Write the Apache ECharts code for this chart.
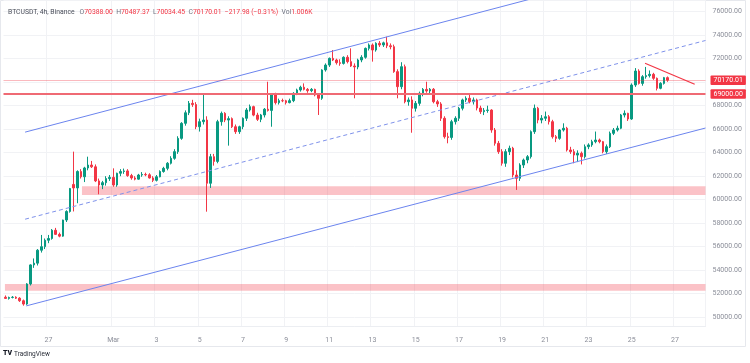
<!DOCTYPE html>
<html><head><meta charset="utf-8">
<script src="https://cdn.jsdelivr.net/npm/echarts@6/dist/echarts.min.js"></script>
<style>html,body{margin:0;padding:0;background:#fff;}#c{width:750px;height:363px;}</style>
</head><body><div id="c"></div>
<script>
// ---- data ----
const startUTC = Date.UTC(2024, 1, 25, 0, 0); // first 4h bar: Feb 25 2024 00:00
const slotCount = 195; // bars + right margin slots
const tickDates = ['02-27','03-01','03-03','03-05','03-07','03-09','03-11','03-13','03-15','03-17','03-19','03-21','03-23','03-25','03-27'];
const tickTexts = ['27','Mar','3','5','7','9','11','13','15','17','19','21','23','25','27'];
// [open, high, low, close]
const candles = [
[51700,51850,51550,51600],[51600,51750,51500,51680],[51680,51800,51600,51700],[51700,51780,51550,51620],
[51620,51700,51300,51400],[51400,51500,50980,51120],[51120,52900,51050,52830],[52830,54500,52700,54450],
[54450,55000,54200,54600],[54600,55800,54400,55700],[55700,57000,55500,56000],[56000,56700,55800,56550],
[56550,57000,56300,56700],[56700,57500,56600,57400],[57400,57600,57000,57050],[57050,57200,56800,56900],
[56900,58300,56850,58270],[58270,59100,58100,59000],[59000,61000,58900,60950],[61300,64090,59000,61000],
[61000,62500,59700,62400],[62400,62600,61800,61950],[61950,62800,61500,62700],[62700,63660,62500,62950],
[62950,63300,62700,62800],[62800,63000,61500,61600],[61600,61800,60460,61250],[61250,61600,60900,61450],
[61450,62000,61200,61800],[61800,62100,61600,61900],[61900,62670,61100,61250],[61250,62300,61100,62250],
[62250,62600,62000,62400],[62400,62650,62200,62450],[62450,62600,61950,62050],[62050,62200,61700,61850],
[61850,62000,61650,61750],[61750,62200,61700,62100],[62100,62350,61950,62150],[62150,62300,62000,62120],
[62120,62250,61800,61850],[61850,62000,61500,61650],[61650,62100,61550,61950],[61950,62500,61900,62400],
[62400,62800,62300,62670],[62670,63200,62500,63100],[63100,63700,63000,63520],[63520,64300,63400,64090],
[64090,65400,63900,65220],[65220,66600,65100,66500],[66500,67600,66300,67400],[67400,68400,67200,68200],
[68200,68500,67900,68100],[68100,68300,66000,66210],[66210,66900,65800,66640],[66640,69050,66400,66780],
[66780,67100,58980,61400],[61400,63900,61000,63660],[63660,63900,62900,63260],[63260,66800,63100,66640],
[66640,67500,66300,67350],[67350,67450,66600,66780],[66780,67100,64600,66900],[66900,67000,66100,66210],
[66210,66400,65600,65790],[65790,66300,65600,66210],[66210,67000,66000,66930],[66930,67800,66700,67635],
[67635,68100,67500,67920],[67920,68000,67100,67200],[67200,67400,66700,66840],[66840,67300,66600,67210],
[67210,67800,67000,67700],[67700,70040,67500,67600],[67600,69000,66210,68910],[68910,69100,68100,68260],
[68260,68600,68100,68430],[68430,68600,68300,68420],[68420,68500,68100,68260],[68260,68600,68200,68430],
[68430,69150,68300,69050],[69050,69450,68900,69340],[69340,69700,69200,69570],[69570,69900,69300,69390],
[69390,69500,69100,69280],[69280,69500,69150,69390],[69390,69450,68800,68910],[68910,69000,67210,68630],
[68630,71100,68500,71040],[71040,71600,70900,71460],[71460,72100,71300,72030],[72030,72740,71800,71890],
[71890,72000,71500,71660],[71660,71950,71400,71600],[71600,72200,71500,72120],[72120,72300,71600,71750],
[71750,72880,71300,71380],[71380,71600,68630,71300],[71300,72000,71100,71890],[71890,72300,71700,72120],
[72120,72950,72000,72880],[72880,73300,72700,73170],[73170,73300,71750,72740],[72740,73400,72600,73310],
[73310,73500,73000,73170],[73170,73450,73000,73350],[73350,73870,72900,73100],[73100,73300,72800,73020],
[73020,73200,70800,70900],[70900,71100,68630,69620],[69620,71700,69400,71320],[71320,71500,68200,68340],
[68340,68700,68000,68490],[68490,68800,65700,67780],[67780,68400,67500,68200],[68200,69200,68000,69050],
[69050,69500,68800,69390],[69390,70040,69100,69250],[69250,69500,69000,69400],[69400,69500,68200,68340],
[68340,68500,67900,68150],[68150,68300,66700,66930],[66930,67100,65200,65360],[65360,65700,64800,65300],
[65300,66800,65100,66640],[66640,67100,66400,66930],[66930,67900,66700,67780],[67780,68600,67600,68490],
[68490,68800,68300,68630],[68630,69050,68200,68340],[68340,68700,68100,68490],[68490,68600,67600,67800],
[67800,68000,67300,67490],[67490,67800,67200,67600],[67600,68000,67400,67630],[67630,67700,65700,65930],
[65930,66100,64600,64800],[64800,65000,63900,64090],[64090,64300,62900,63100],[63100,64300,62800,64090],
[64090,64600,63800,64380],[64380,64500,61900,62100],[62100,62500,60830,61820],[61820,63100,61600,62950],
[62950,63500,62700,63380],[63380,63800,63100,63660],[63660,65900,63500,65790],[65790,68100,65600,67780],
[67780,67900,66500,66780],[66780,67200,66500,66930],[66930,67500,66700,67060],[67060,67200,66400,66640],
[66640,66800,65200,65360],[65360,65500,64900,65220],[65220,66000,65100,65930],[65930,66500,65800,66080],
[66080,66200,64100,64230],[64230,64500,63900,64090],[64090,64300,63100,63800],[63800,64200,63200,63950],
[63950,64100,63000,63660],[63660,64700,63500,64510],[64510,64800,64300,64660],[64660,65100,64500,64940],
[64940,65800,64800,65080],[65080,65200,64800,64940],[64940,65000,63950,64090],[64090,64700,63900,64510],
[64510,65800,64400,65650],[65650,66100,65500,65930],[65930,66300,65800,66080],[66080,67300,66000,67210],
[67210,67600,67000,67350],[67350,67400,66700,66870],[66870,69900,66800,69760],[69760,71200,69600,70950],
[70950,71100,69800,69900],[69900,70600,69700,70470],[70470,71300,70300,70560],[70560,71000,70400,70670],
[70670,70800,70200,70330],[70330,70400,69300,69480],[69480,70000,69400,69900],[69900,70450,69800,70388],
[70388,70487.37,70034.45,70170.01]
];
const hLineLevel = 69000;
const lastPrice = 70170.01;
// drawings in (bar index, price)
const zoneUpper = [[21.3, 61150], [194.5, 60400]];
const zoneLower = [[-0.1, 52820], [194.5, 52250]];
const channelUpper = [[5.5, 65750], [194.5, 81000]];
const channelMid = [[5.5, 58340], [194.5, 73550]];
const channelLower = [[5.8, 50960], [194.5, 66100]];
const redTrend = [[177.7, 71609], [191.5, 69822]];
const legendNames = ['O','H','L','C'];
const legendValues = ['70388.00','70487.37','70034.45','70170.01'];
const legendChange = '−217.98 (−0.31%)';
const legendVol = '1.006K';

// ---- build ----
const pad = n => String(n).padStart(2,'0');
const categories = [];
for (let k = 0; k < slotCount; k++) {
  const d = new Date(startUTC + k * 4 * 3600 * 1000);
  categories.push(pad(d.getUTCMonth()+1) + '-' + pad(d.getUTCDate()) + ' ' + pad(d.getUTCHours()) + ':00');
}
const tickMap = {};
tickDates.forEach((d, i) => { tickMap[d + ' 00:00'] = tickTexts[i]; });
const isTick = (idx, val) => tickMap[val] !== undefined;

const UP = '#089981', DOWN = '#f23645';
const FONT = 'Roboto, "Noto Sans", sans-serif';
const GRIDC = '#f1f2f5';

const chart = echarts.init(document.getElementById('c'), null, {renderer: 'canvas'});
const legendText = '{t|BTCUSDT, 4h, Binance}   ' +
  legendNames.map((n, i) => '{g|' + n + '}{r|' + legendValues[i] + '}').join('  ') +
  '  {r|' + legendChange + '}  {g|Vol}{r|' + legendVol + '}';

chart.setOption({
  animation: false,
  backgroundColor: '#ffffff',
  grid: {left: 3.5, right: 44.5, top: 0, bottom: 37},
  xAxis: [{
    type: 'category', data: categories, boundaryGap: true,
    axisLine: {show: true, lineStyle: {color: '#eceef2'}},
    axisTick: {show: false},
    axisLabel: {interval: isTick, formatter: v => tickMap[v] || '', color: '#8b8e99', fontSize: 7, fontFamily: FONT, margin: 11},
    splitLine: {show: true, interval: isTick, lineStyle: {color: GRIDC, width: 1}}
  }, {
    type: 'value', min: -0.5, max: 194.5, show: false
  }],
  yAxis: {
    type: 'value', position: 'right', min: 49251, max: 76996, splitNumber: 14,
    axisLine: {show: false}, axisTick: {show: false},
    axisLabel: {formatter: v => (Math.abs(v % 2000) < 1e-6 ? v.toFixed(2) : ''), color: '#8b8e99', fontSize: 7, fontFamily: FONT, margin: 7},
    splitLine: {show: true, lineStyle: {color: GRIDC, width: 1}}
  },
  series: [{
    type: 'line', xAxisIndex: 1, data: [], z: 1, silent: true,
    markArea: {silent: true, itemStyle: {color: 'rgba(242,54,69,0.30)'},
      data: [
        [{coord: zoneUpper[0]}, {coord: zoneUpper[1]}],
        [{coord: zoneLower[0]}, {coord: zoneLower[1]}]
      ]}
  }, {
    type: 'candlestick', xAxisIndex: 0, z: 2, barWidth: 2,
    data: candles.map(c => [c[0], c[3], c[2], c[1]]),
    itemStyle: {color: UP, color0: DOWN, borderColor: UP, borderColor0: DOWN, borderWidth: 1},
    markLine: {
      silent: true, symbol: ['none', 'none'], animation: false,
      label: {show: true, position: 'end', distance: 5, color: '#fff', fontSize: 7, fontFamily: FONT,
        backgroundColor: '#f23645', padding: [1.5, 3, 1, 3], borderRadius: 1,
        formatter: p => Number(p.value).toFixed(2)},
      data: [
        {yAxis: lastPrice, lineStyle: {color: 'rgba(242,54,69,0.35)', width: 1, type: 'solid'}},
        {yAxis: hLineLevel, lineStyle: {color: '#ef6a74', width: 2, type: 'solid'}}
      ]
    }
  }, {
    type: 'line', xAxisIndex: 1, data: channelUpper, showSymbol: false, z: 3, silent: true,
    lineStyle: {color: '#6b84ee', width: 1}
  }, {
    type: 'line', xAxisIndex: 1, data: channelMid, showSymbol: false, z: 3, silent: true,
    lineStyle: {color: '#7f92ea', width: 1, type: [4, 3]}
  }, {
    type: 'line', xAxisIndex: 1, data: channelLower, showSymbol: false, z: 3, silent: true,
    lineStyle: {color: '#6b84ee', width: 1}
  }, {
    type: 'line', xAxisIndex: 1, data: redTrend, showSymbol: false, z: 3, silent: true,
    lineStyle: {color: '#f23645', width: 1.2}
  }],
  graphic: [{
    type: 'rect', shape: {x: 0.5, y: 0.5, width: 745, height: 346}, z: 0, silent: true,
    style: {fill: 'none', stroke: '#e6e8ed', lineWidth: 1}
  }, {
    type: 'text', left: 8, top: 8.5, z: 10,
    style: {text: legendText, font: '6.8px ' + FONT,
      rich: {
        t: {fill: '#4a4e5a', fontSize: 6.8, fontFamily: FONT},
        g: {fill: '#6f7380', fontSize: 6.8, fontFamily: FONT},
        r: {fill: '#f23645', fontSize: 6.8, fontFamily: FONT}
      }}
  }, {
    type: 'text', left: 3, top: 350, z: 10,
    style: {text: 'TV', fill: '#131722', font: '900 7px ' + FONT}
  }, {
    type: 'text', left: 14, top: 350.5, z: 10,
    style: {text: 'TradingView', fill: '#2a2e39', font: '6.5px ' + FONT}
  }]
});
</script></body></html>
